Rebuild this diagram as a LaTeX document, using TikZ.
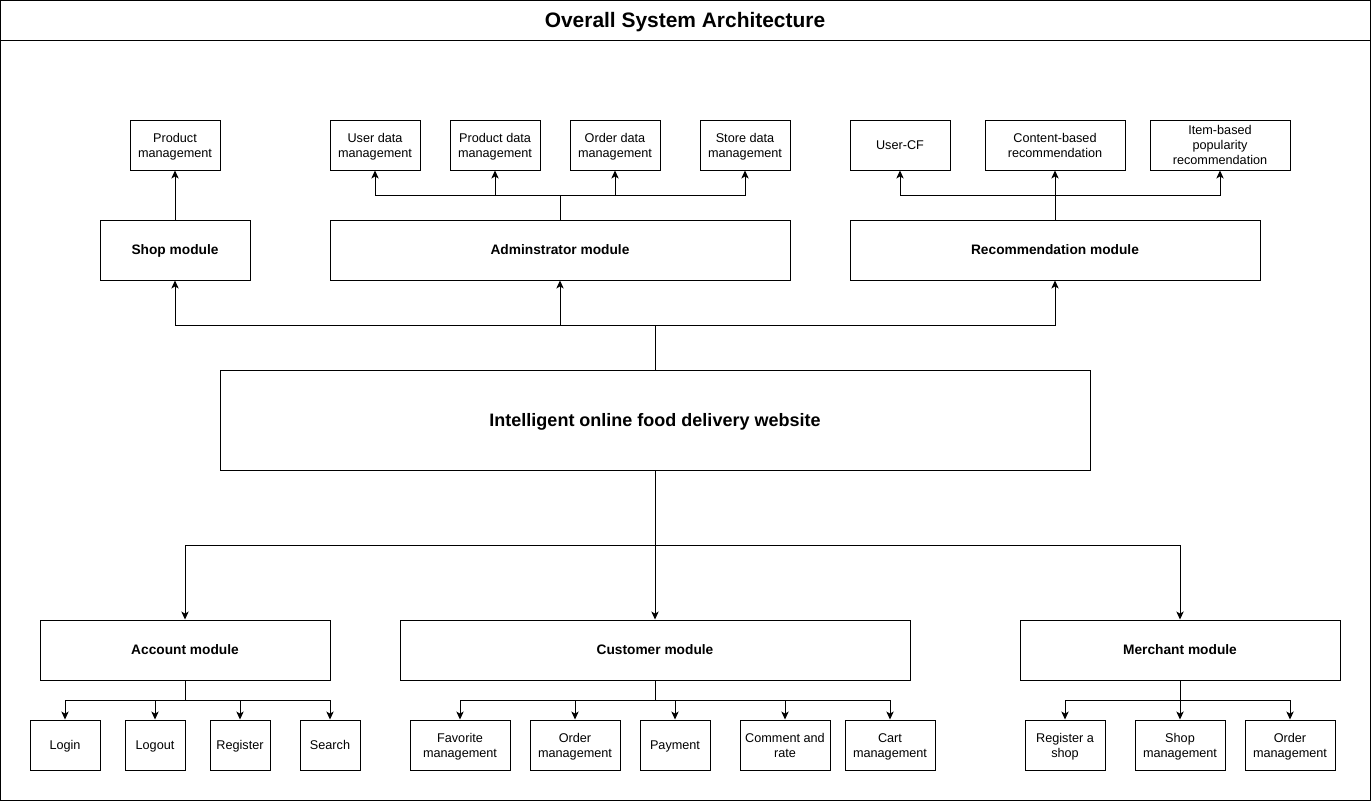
\documentclass[tikz,border=0pt]{standalone}
\usepackage{fontspec}
\setmainfont{Liberation Sans}
\usetikzlibrary{arrows.meta}

\newcommand\capup{\rule{0pt}{0.92em}}
\newcommand\capdown{\rule[-0.2em]{0pt}{0.2em}}

\tikzset{
  txt/.style={align=center, inner sep=0pt,
    execute at begin node=\capup, execute at end node=\capdown},
  leaf/.style={txt, draw, line width=0.75pt, minimum height=37.5pt,
    font=\fontsize{9.5}{11.25}\selectfont},
  two/.style={leaf, execute at begin node=\rule{0pt}{\dimexpr0.92em+11.25pt\relax}},
  three/.style={leaf, execute at begin node=\rule{0pt}{\dimexpr0.92em+22.5pt\relax}},
  module/.style={txt, draw, line width=0.75pt, minimum height=45pt,
    font=\fontsize{10.3}{12}\selectfont\bfseries},
  arr/.style={draw, line width=0.75pt, -{Stealth[length=6pt,width=5.5pt,inset=1.6pt]}},
}

\begin{document}
\begin{tikzpicture}[x=0.75pt, y=-0.75pt]
\useasboundingbox (0,0) rectangle (1371,801);
\draw[line width=0.75pt] (0.5,0.5) rectangle (1370.5,800.5);
\draw[line width=0.75pt] (0.5,40) -- (1370.5,40);
\node[txt, font=\fontsize{15.7}{18}\selectfont\bfseries] (title) at (685,20) {Overall System Architecture};

% top row
\node[two, minimum width=67.5pt] (pm) at (175,145) {Product\\management};
\node[two, minimum width=67.5pt] (udm) at (375,145) {User data\\management};
\node[two, minimum width=67.5pt] (pdm) at (495,145) {Product data\\management};
\node[two, minimum width=67.5pt] (odm) at (615,145) {Order data\\management};
\node[two, minimum width=67.5pt] (sdm) at (745,145) {Store data\\management};
\node[leaf, minimum width=75pt] (ucf) at (900,145) {User-CF};
\node[two, minimum width=105pt] (cbr) at (1055,145) {Content-based\\recommendation};
\node[three, minimum width=105pt] (ibr) at (1220,145) {Item-based\\popularity\\recommendation};

% upper modules
\node[module, minimum width=112.5pt] (shop) at (175,250) {Shop module};
\node[module, minimum width=345pt] (adm) at (560,250) {Adminstrator module};
\node[module, minimum width=307.5pt] (rec) at (1055,250) {Recommendation module};

% website
\node[txt, draw, line width=0.75pt, minimum width=652.5pt, minimum height=75pt,
  font=\fontsize{13.5}{16}\selectfont\bfseries] (web) at (655,420) {Intelligent online food delivery website};

% lower modules
\node[module, minimum width=217.5pt] (acc) at (185,650) {Account module};
\node[module, minimum width=382.5pt] (cus) at (655,650) {Customer module};
\node[module, minimum width=240pt] (mer) at (1180,650) {Merchant module};

% bottom row
\node[leaf, minimum width=52.5pt] (login) at (65,745) {Login};
\node[leaf, minimum width=45pt] (logout) at (155,745) {Logout};
\node[leaf, minimum width=45pt] (reg) at (240,745) {Register};
\node[leaf, minimum width=45pt] (search) at (330,745) {Search};
\node[two, minimum width=75pt] (fav) at (460,745) {Favorite\\management};
\node[two, minimum width=67.5pt] (ord) at (575,745) {Order\\management};
\node[leaf, minimum width=52.5pt] (pay) at (675,745) {Payment};
\node[two, minimum width=67.5pt] (com) at (785,745) {Comment and\\rate};
\node[two, minimum width=67.5pt] (cart) at (890,745) {Cart\\management};
\node[two, minimum width=60pt] (rshop) at (1065,745) {Register a\\shop};
\node[two, minimum width=67.5pt] (smg) at (1180,745) {Shop\\management};
\node[two, minimum width=67.5pt] (omg) at (1290,745) {Order\\management};

% junctions
\coordinate (adm-j) at (560,195);
\coordinate (rec-j) at (1055,195);
\coordinate (top-j) at (655,325);
\coordinate (bot-j) at (655,545);
\coordinate (acc-j) at (185,700);
\coordinate (cus-j) at (655,700);
\coordinate (mer-j) at (1180,700);

\path[arr] (shop) -- (pm);
\path[arr] (adm) -- (adm-j) -| (udm);
\path[arr] (adm-j) -| (pdm);
\path[arr] (adm-j) -| (odm);
\path[arr] (adm-j) -| (sdm);
\path[arr] (rec) -- (rec-j) -| (ucf);
\path[arr] (rec-j) -- (cbr);
\path[arr] (rec-j) -| (ibr);

\path[arr] (web) -- (top-j) -| (shop);
\path[arr] (top-j) -| (adm);
\path[arr] (top-j) -| (rec);

\path[arr] (web) -- (bot-j) -| (acc);
\path[arr] (bot-j) -- (cus);
\path[arr] (bot-j) -| (mer);

\path[arr] (acc) -- (acc-j) -| (login);
\path[arr] (acc-j) -| (logout);
\path[arr] (acc-j) -| (reg);
\path[arr] (acc-j) -| (search);
\path[arr] (cus) -- (cus-j) -| (fav);
\path[arr] (cus-j) -| (ord);
\path[arr] (cus-j) -| (pay);
\path[arr] (cus-j) -| (com);
\path[arr] (cus-j) -| (cart);
\path[arr] (mer) -- (mer-j) -| (rshop);
\path[arr] (mer-j) -- (smg);
\path[arr] (mer-j) -| (omg);
\end{tikzpicture}
\end{document}
